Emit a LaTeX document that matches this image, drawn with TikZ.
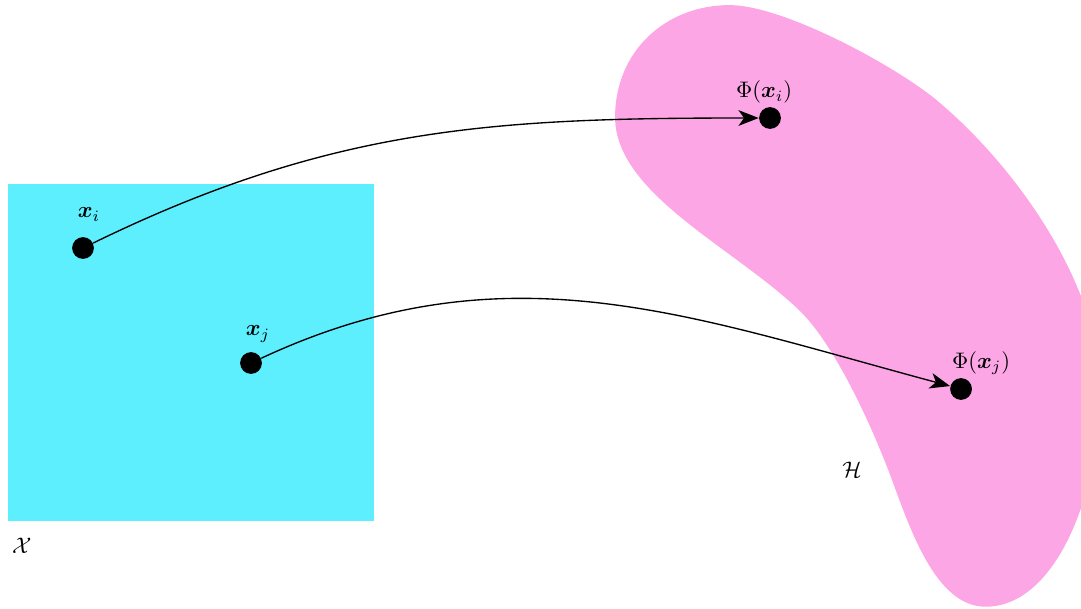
\documentclass[tikz,border=0pt]{standalone}
\usepackage{xcolor}
\usepackage{amsmath}
\usepackage{amssymb}
\usepackage{bm}
\usepackage{tikz, pgf}
\usetikzlibrary{arrows,arrows.meta,shapes,positioning}

\definecolor{inputcol}{RGB}{94,239,255}
\definecolor{featcol}{RGB}{252,166,230}

\begin{document}
\begin{tikzpicture}[dot/.style={circle, fill=black, inner sep=0pt, minimum size=0.34cm},
        maparrow/.style={->, >={Stealth[length=9pt, width=7pt, inset=2.5pt]}, semithick}]
        \useasboundingbox (0,0) rectangle (16.89,9.5);

        % input space and feature space
        \fill[inputcol] (0.125,1.36) rectangle (5.84,6.625);
        \fill[featcol] (9.61,7.67) .. controls (9.61,8.7) and (10.4,9.42) .. (11.4,9.42)
            .. controls (12.2,9.42) and (13.85,8.55) .. (14.58,7.98)
            .. controls (15.9,6.9) and (17.2,5.0) .. (17.19,3.42)
            .. controls (17.19,1.8) and (16.5,0.02) .. (15.4,0.02)
            .. controls (14.6,0.02) and (14.2,1.3) .. (13.9,2.1)
            .. controls (13.54,3.04) and (13.0,4.15) .. (12.5,4.64)
            .. controls (11.49,5.62) and (9.61,6.47) .. cycle;
        \node (X) at (0.34,0.97) {$\mathcal{X}$};
        \node (H) at (13.31,2.16) {$\mathcal{H}$};

        \node[dot] (xi) at (1.297,5.625) {};
        \node[dot] (xj) at (3.922,3.828) {};
        \node[dot] (pxi) at (12.031,7.656) {};
        \node[dot] (pxj) at (15.016,3.422) {};

        \node (lxi) at (1.39,6.15) {$\bm{x}_i$};
        \node (lxj) at (4.03,4.28) {$\bm{x}_j$};
        \node (lpxi) at (11.94,8.06) {$\Phi(\bm{x}_i)$};
        \node (lpxj) at (15.33,3.83) {$\Phi(\bm{x}_j)$};

        \draw[maparrow] (xi)  to[out=26, in=180] (pxi);
        \draw[maparrow] (xj)  to[out=25, in=165] (pxj);
    \end{tikzpicture}
\end{document}
